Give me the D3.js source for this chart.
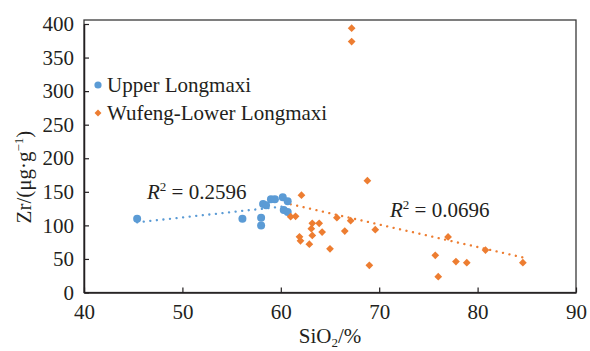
<!DOCTYPE html>
<html>
<head>
<meta charset="utf-8">
<script src="https://cdn.jsdelivr.net/npm/d3@7"></script>
<style>
  body { margin: 0; background: #fff; }
</style>
</head>
<body>
<div id="wrapper"></div>
<script>
// Upper Longmaxi
const upperSiO2 = [45.4, 56.1, 58.0, 58.0, 58.2, 58.5, 59.0, 59.4, 60.2, 60.7, 60.3, 60.7];
const upperZr   = [110, 110, 111.5, 100, 132, 130, 139, 139, 142, 136, 123, 120];
// Wufeng-Lower Longmaxi
const lowerSiO2 = [68.8, 62.1, 61.5, 61.0, 65.7, 67.1, 63.2, 63.9, 63.1, 64.2, 66.5, 69.6, 61.9, 62.0,
                   63.2, 62.9, 65.0, 77.0, 80.8, 75.7, 77.8, 78.9, 84.6, 69.0, 76.0, 67.2, 67.2];
const lowerZr   = [166.6, 145, 113.5, 113, 111.5, 107, 103, 103, 95, 90, 91.6, 93.6, 83, 77,
                   85, 72, 65, 82.7, 63.3, 55.4, 46, 44.5, 44.5, 40.5, 23.5, 393.7, 373.8];
const xTicks = [40, 50, 60, 70, 80, 90];
const yTicks = [0, 50, 100, 150, 200, 250, 300, 350, 400];
const seriesNames = ["Upper Longmaxi", "Wufeng-Lower Longmaxi"];
const r2Labels = ["0.2596", "0.0696"];

const blue = "#5b9bd5";
const orange = "#ed7d31";
const font = "'Liberation Serif', 'Times New Roman', serif";
const ink = "#231f20";

let dimensions = {
  width: 590,
  height: 351,
  margin: { top: 20, left: 84, bottom: 58.5, right: 14 }
};
dimensions.boundedWidth = dimensions.width - dimensions.margin.left - dimensions.margin.right;
dimensions.boundedHeight = dimensions.height - dimensions.margin.top - dimensions.margin.bottom;

const svg = d3.select("#wrapper").append("svg")
  .attr("width", dimensions.width)
  .attr("height", dimensions.height)
  .style("font-family", font);

const xScale = d3.scaleLinear().domain([40, 90]).range([dimensions.margin.left, dimensions.width - dimensions.margin.right]);
const yScale = d3.scaleLinear().domain([0, 400]).range([dimensions.height - dimensions.margin.bottom, 24]);

// plot frame
svg.append("rect")
  .attr("x", dimensions.margin.left)
  .attr("y", dimensions.margin.top)
  .attr("width", dimensions.boundedWidth)
  .attr("height", dimensions.boundedHeight)
  .attr("fill", "none")
  .attr("stroke", "#3a3a3a")
  .attr("stroke-width", 1.3);

const xAxis = svg.append("g")
  .attr("transform", `translate(0,${yScale(0)})`)
  .call(d3.axisBottom(xScale).tickValues(xTicks).tickSize(-5).tickPadding(10).tickSizeOuter(0));
const yAxis = svg.append("g")
  .attr("transform", `translate(${xScale(40)},0)`)
  .call(d3.axisLeft(yScale).tickValues(yTicks).tickSize(-5).tickPadding(10).tickSizeOuter(0));

[xAxis, yAxis].forEach(a => {
  a.attr("font-family", null).attr("font-size", null);
  a.select(".domain").attr("stroke", ink).attr("stroke-width", 1.5);
  a.selectAll(".tick line").attr("stroke", ink).attr("stroke-width", 1.2);
  a.selectAll(".tick text")
    .style("font-family", font)
    .style("font-size", "21px")
    .attr("fill", ink);
});
xAxis.selectAll(".tick text").attr("dy", "0.78em");

// trendlines (least squares fit)
function fit(xs, ys) {
  const mx = d3.mean(xs), my = d3.mean(ys);
  const sxy = d3.sum(xs, (x, i) => (x - mx) * (ys[i] - my));
  const sxx = d3.sum(xs, x => (x - mx) ** 2);
  const b = sxy / sxx;
  return x => my + b * (x - mx);
}
function trend(xs, ys, color) {
  const f = fit(xs, ys);
  const ext = d3.extent(xs);
  svg.append("path")
    .attr("d", d3.line().x(d => xScale(d)).y(d => yScale(f(d)))(ext))
    .attr("fill", "none")
    .attr("stroke", color)
    .attr("stroke-width", 2.3)
    .attr("stroke-linecap", "round")
    .attr("stroke-dasharray", "0.1 6.5");
}
trend(upperSiO2, upperZr, blue);
trend(lowerSiO2, lowerZr, orange);

// points
svg.append("g").selectAll("circle")
  .data(upperSiO2)
  .enter()
  .append("circle")
  .attr("cx", d => xScale(d))
  .attr("cy", (d, i) => yScale(upperZr[i]))
  .attr("r", 4)
  .attr("fill", blue);

const diamond = d3.symbol().type(d3.symbolSquare).size(30);
svg.append("g").selectAll("path")
  .data(lowerSiO2)
  .enter()
  .append("path")
  .attr("d", diamond)
  .attr("transform", (d, i) => `translate(${xScale(d)},${yScale(lowerZr[i])}) rotate(45)`)
  .attr("fill", orange);

// text helper
function txt(sel) {
  return sel.style("font-family", font).style("font-size", "21px").attr("fill", ink);
}

// legend
const legend = svg.append("g");
legend.append("circle").attr("cx", 98).attr("cy", 85).attr("r", 3.6).attr("fill", blue);
legend.append("path").attr("d", d3.symbol().type(d3.symbolSquare).size(24))
  .attr("transform", "translate(98,113) rotate(45)").attr("fill", orange);
txt(legend.selectAll("text")
  .data(seriesNames)
  .enter()
  .append("text")
  .attr("x", 107)
  .attr("y", (d, i) => 92 + i * 28))
  .text(d => d);

// R² labels
function r2(x, y, val) {
  const t = txt(svg.append("text").attr("x", x).attr("y", y));
  t.append("tspan").style("font-style", "italic").text("R");
  t.append("tspan").style("font-size", "13px").attr("dy", -8).text("2");
  t.append("tspan").attr("dy", 8).text(" = " + val);
}
r2(147, 199, r2Labels[0]);
r2(390, 217, r2Labels[1]);

// axis titles
const xt = txt(svg.append("text")
  .attr("x", 330)
  .attr("y", 343)
  .attr("text-anchor", "middle"));
xt.append("tspan").text("SiO");
xt.append("tspan").style("font-size", "13px").attr("dy", 4).text("2");
xt.append("tspan").attr("dy", -4).text("/%");

const yt = txt(svg.append("text")
  .attr("transform", "translate(31,177) rotate(-90)")
  .attr("text-anchor", "middle"));
yt.append("tspan").text("Zr/(μg·g");
yt.append("tspan").style("font-size", "13px").attr("dy", -8).text("−1");
yt.append("tspan").attr("dy", 8).text(")");
</script>
</body>
</html>
